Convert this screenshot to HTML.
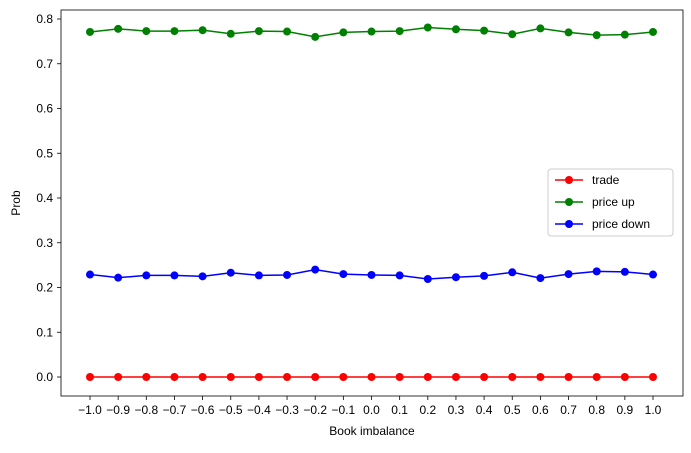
<!DOCTYPE html>
<html><head><meta charset="utf-8"><style>
body{margin:0;background:#fff;font-family:"Liberation Sans","DejaVu Sans",sans-serif;}
</style></head><body>
<svg id="chart" width="691" height="448" xmlns="http://www.w3.org/2000/svg" font-family="Liberation Sans, DejaVu Sans, sans-serif">
<rect x="0" y="0" width="691" height="448" fill="#fff"/>
<g id="plot"></g>
</svg>
<script>
const categories=[-1.0,-0.9,-0.8,-0.7,-0.6,-0.5,-0.4,-0.3,-0.2,-0.1,0.0,0.1,0.2,0.3,0.4,0.5,0.6,0.7,0.8,0.9,1.0];
const tradeValues=[0,0,0,0,0,0,0,0,0,0,0,0,0,0,0,0,0,0,0,0,0];
const priceUpValues=[0.771,0.778,0.773,0.773,0.775,0.767,0.773,0.772,0.760,0.770,0.772,0.773,0.781,0.777,0.774,0.766,0.779,0.770,0.764,0.765,0.771];
const priceDownValues=[0.229,0.222,0.227,0.227,0.225,0.233,0.227,0.228,0.240,0.230,0.228,0.227,0.219,0.223,0.226,0.234,0.221,0.230,0.236,0.235,0.229];
const yTicks=[0.0,0.1,0.2,0.3,0.4,0.5,0.6,0.7,0.8];
const xTickLabels=["\u22121.0","\u22120.9","\u22120.8","\u22120.7","\u22120.6","\u22120.5","\u22120.4","\u22120.3","\u22120.2","\u22120.1","0.0","0.1","0.2","0.3","0.4","0.5","0.6","0.7","0.8","0.9","1.0"];

const NS="http://www.w3.org/2000/svg";
const g=document.getElementById('plot');
const L=61,R=683,T=10,B=396;
const xs=v=>90+(v+1)/2*563;
const ys=v=>377-v*447.5;
function el(tag,attrs,parent){const e=document.createElementNS(NS,tag);for(const k in attrs)e.setAttribute(k,attrs[k]);(parent||g).appendChild(e);return e;}

yTicks.forEach((t,i)=>{
  const y=ys(t);
  const tk=el('line',{x1:L-4,x2:L,y1:y,y2:y,stroke:'#000','stroke-width':0.8});
  
  
  const tx=el('text',{x:L-8,y:y+4,'text-anchor':'end','font-size':12});
  tx.textContent=t.toFixed(1);
  
  
});
categories.forEach((c,i)=>{
  const x=xs(c);
  const tk=el('line',{x1:x,x2:x,y1:B,y2:B+4,stroke:'#000','stroke-width':0.8});
  
  
  const tx=el('text',{x:x,y:B+18,'text-anchor':'middle','font-size':12});
  tx.textContent=xTickLabels[i];
  
  
});
const xl=el('text',{x:(L+R)/2,y:435,'text-anchor':'middle','font-size':12});
xl.textContent='Book imbalance';


const yl=el('text',{x:20,y:(T+B)/2,'text-anchor':'middle','font-size':12,transform:`rotate(-90 20 ${(T+B)/2})`});
yl.textContent='Prob';



const series=[['trade',tradeValues,'#ff0000'],['price up',priceUpValues,'#008000'],['price down',priceDownValues,'#0000ff']];
series.forEach(([name,vals,col])=>{
  const pts=categories.map((c,i)=>xs(c)+','+ys(vals[i])).join(' ');
  const pl=el('polyline',{points:pts,fill:'none',stroke:col,'stroke-width':1.5});
  
  
  categories.forEach((c,i)=>{
    const m=el('circle',{cx:xs(c),cy:ys(vals[i]),r:4,fill:col});
    
    
  });
});
const frame=el('rect',{x:L,y:T,width:R-L,height:B-T,fill:'none',stroke:'#000','stroke-width':0.8});



const lg=el('g',{});


el('rect',{x:548,y:169,width:125,height:67,rx:3,fill:'#fff',stroke:'#ccc','stroke-width':1},lg);
series.forEach(([name,vals,col],i)=>{
  const y=180+i*22;
  const e=el('g',{},lg);
  
  
  el('line',{x1:555,x2:583,y1:y,y2:y,stroke:col,'stroke-width':1.5},e);
  el('circle',{cx:569,cy:y,r:4,fill:col},e);
  const t=el('text',{x:592,y:y+4,'font-size':12},e);
  t.textContent=name;
});
</script>
</body></html>
